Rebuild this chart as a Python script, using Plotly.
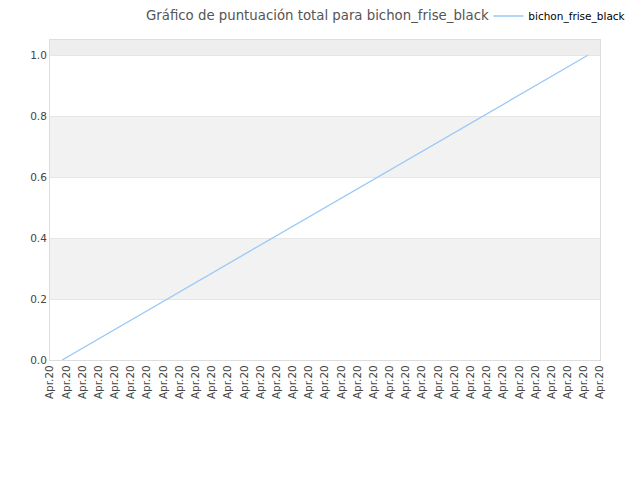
import plotly.graph_objects as go

# serie: puntuación total
fechas = ["2020-04-20 00:30", "2020-04-20 22:10"]
puntuacion = [0.0, 1.0]
nombre = "bichon_frise_black"

# bandas alternas del fondo (y0, y1, color)
bandas = [(0.2, 0.4, "#f2f2f2"), (0.6, 0.8, "#f2f2f2"), (1.0, 1.05, "#eeeeee")]

fig = go.Figure()
fig.add_trace(go.Scatter(x=fechas, y=puntuacion, mode="lines", name=nombre,
                         line=dict(color="#99c9f7", width=1.3)))

for y0, y1, col in bandas:
    fig.add_shape(type="rect", xref="paper", yref="y", x0=0, x1=1, y0=y0, y1=y1,
                  fillcolor=col, line_width=0, layer="below")

# la página tiene 8px de margen en el body, se compensa aquí
fig.update_layout(
    width=632, height=472,
    margin=dict(l=42, r=40, t=32, b=120, autoexpand=False),
    paper_bgcolor="white", plot_bgcolor="white",
    font=dict(family="DejaVu Sans", size=11, color="#333333"),
    title=dict(text="Gráfico de puntuación total para bichon_frise_black",
               x=0.4895, xanchor="center", y=0.9935, yanchor="top",
               pad=dict(t=0),
               font=dict(size=13.3, color="#555555")),
    showlegend=True,
    legend=dict(x=0.797, y=1.075, xanchor="left", yanchor="middle",
                itemwidth=30, font=dict(size=10.5, color="#000000"),
                bgcolor="rgba(0,0,0,0)"),
    xaxis=dict(type="date", range=["2020-04-20 00:00", "2020-04-20 22:40"],
               tick0="2020-04-20 00:00", dtick=40 * 60 * 1000, tickformat="%b.%d",
               tickangle=-90, showgrid=False, zeroline=False, automargin=False,
               showline=True, linecolor="#dddddd", mirror=True, ticklen=0,
               tickfont=dict(family="DejaVu Sans", size=10.5, color="#444444")),
    yaxis=dict(range=[0, 1.05], dtick=0.2, tickformat=".1f", automargin=False,
               showgrid=True, gridcolor="#e6e6e6", zeroline=False,
               showline=True, linecolor="#dddddd", mirror=True,
               tickfont=dict(size=10.5, color="#444444")),
)

fig.write_html("out.html")
